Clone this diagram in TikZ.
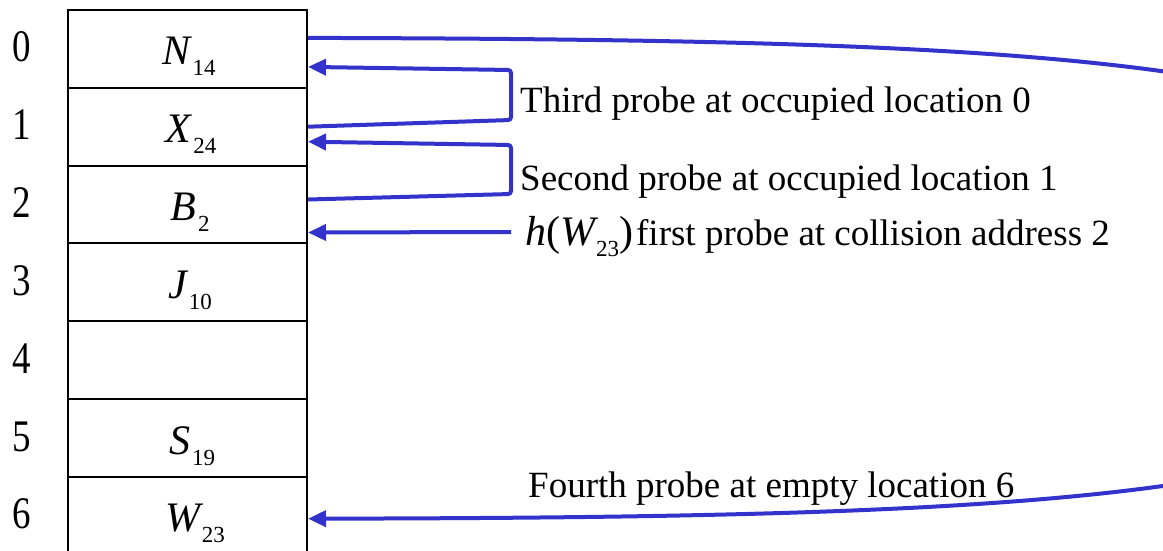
\documentclass[tikz,border=0pt]{standalone}
\usepackage{fontspec}
\setmainfont{Liberation Serif}
\usetikzlibrary{arrows.meta}
\definecolor{probeblue}{RGB}{51,51,204}
% subscript index and table entry (italic key with numeric subscript)
\newcommand{\keysub}[1]{\raisebox{-11pt}{\fontsize{23}{23}\selectfont #1}}
\newcommand{\bigit}[1]{{\fontsize{42}{44}\selectfont\itshape #1}}
\newcommand{\bigup}[1]{{\fontsize{42}{44}\selectfont #1}}
\newcommand{\keyentry}[2]{\bigit{#1}\kern2pt\keysub{#2}}
\newcommand{\rowidx}[1]{\scalebox{1}[1.22]{#1}}

\begin{document}
\begin{tikzpicture}[x=1pt,y=-1pt,
  cell/.style={draw,line width=2pt,minimum width=239pt,minimum height=77.8pt,inner sep=0pt},
  key/.style={anchor=base,inner sep=0pt},
  idx/.style={anchor=base west,inner sep=0pt,font=\fontsize{37}{40}\selectfont},
  note/.style={anchor=base west,inner sep=0pt,font=\fontsize{37}{40}\selectfont},
  probe/.style={draw=probeblue,line width=4pt},
  tip/.style={-{Triangle[length=18pt,width=16pt]}}]

\useasboundingbox (0,0) rectangle (1163,551);
\clip (0,0) rectangle (1163,551);

% hash table slots
\foreach \i in {0,...,6} {
  \node[cell] (r\i) at (187.5,{48.9+77.8*\i}) {};
  \node[idx] (n\i) at (12,{62+77.8*\i}) {\rowidx{\i}};
}

% stored keys
\node[key] (k0) at (189,65) {\keyentry{N}{14}};
\node[key] (k1) at (191,{65+77.8}) {\keyentry{X}{24}};
\node[key] (k2) at (190,{65+2*77.8}) {\keyentry{B}{2}};
\node[key] (k3) at (190,{65+3*77.8}) {\keyentry{J}{10}};
\node[key] (k5) at (192,{65+5*77.8}) {\keyentry{S}{19}};
\node[key] (k6) at (195,{65+6*77.8}) {\keyentry{W}{23}};

% probe annotations
\node[note] (t3) at (520,113) {Third probe at occupied location 0};
\node[note] (t2) at (520,190) {Second probe at occupied location 1};
\node[note] (t1) at (525,245) {\bigit{h}\bigup{(}\bigit{W}\kern1pt\keysub{23}\bigup{)}\kern3pt first probe at collision address 2};
\node[note] (t4) at (528,497) {Fourth probe at empty location 6};

% turning points of the probe sequence
\coordinate (c1t) at (511,70);
\coordinate (c1b) at (511,120);
\coordinate (c2t) at (511,145);
\coordinate (c2b) at (511,194);
\coordinate (c3)  at (511,232);
\coordinate (wrap) at (1500,278.5);

% first probe: collision at slot 2
\draw[probe,tip] (c3) -- ([yshift=-28pt]r2.east);
% second probe: slot 2 -> slot 1
\draw[probe,tip,rounded corners=3pt] ([yshift=5pt]r2.east) -- (c2b) -- (c2t) -- ([yshift=-15pt]r1.east);
% third probe: slot 1 -> slot 0
\draw[probe,tip,rounded corners=3pt] (r1.east) -- (c1b) -- (c1t) -- ([yshift=-18pt]r0.east);
% fourth probe: wrap around from slot 0 to slot 6
\draw[probe,tip] ([yshift=11pt]r0.east) .. controls (1100,40) and (1500,60) .. (wrap)
  .. controls (1500,497) and (1100,517) .. ([yshift=-3pt]r6.east);
\end{tikzpicture}
\end{document}
